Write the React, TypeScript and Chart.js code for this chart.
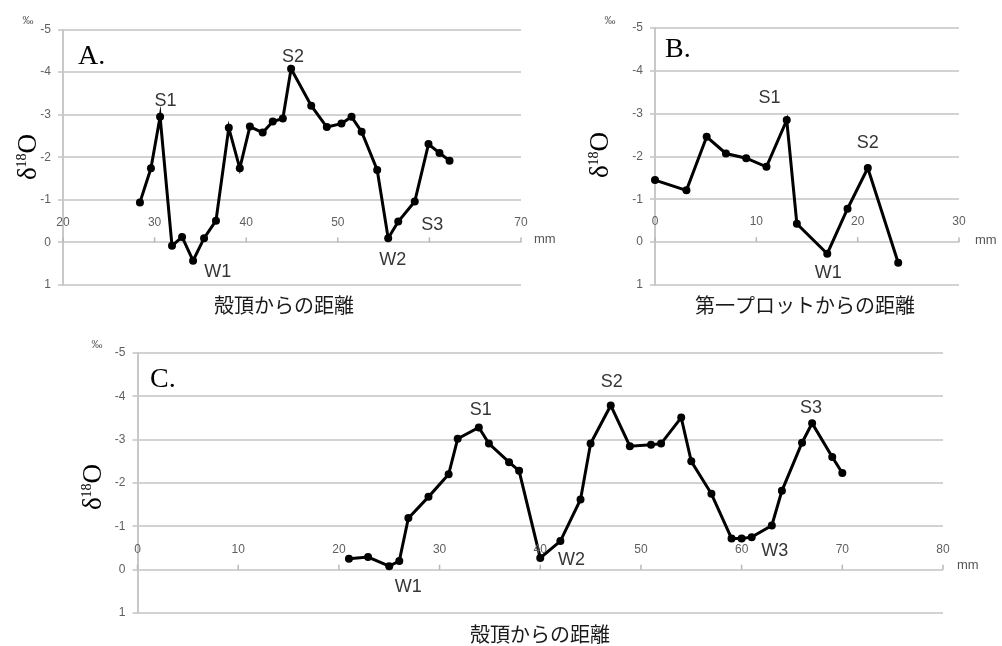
import React, { useEffect, useRef } from 'react';
import { Chart, registerables } from 'chart.js';

Chart.register(...registerables);

// ---------- Panel A ----------
const aDistance = [28.4, 29.6, 30.6, 31.9, 33.0, 34.2, 35.4, 36.7, 38.1, 39.3, 40.4, 41.8, 42.9, 44.0, 44.9, 47.1, 48.8, 50.4, 51.5, 52.6, 54.3, 55.5, 56.6, 58.4, 59.9, 61.1, 62.2];
const aDelta = [-0.94, -1.74, -2.95, 0.08, -0.13, 0.43, -0.10, -0.51, -2.69, -1.74, -2.72, -2.58, -2.84, -2.91, -4.08, -3.21, -2.71, -2.79, -2.95, -2.60, -1.70, -0.10, -0.49, -0.96, -2.31, -2.10, -1.92];
const aTickValues = [20, 30, 40, 50, 60, 70];
const aTickLabels = ['20', '30', '40', '50', '', '70'];
const aMarkText = ['S1', 'S2', 'W1', 'W2', 'S3'];
const aMarkX = [31.2, 45.1, 36.9, 56.0, 60.3];
const aMarkY = [-3.31, -4.36, 0.69, 0.41, -0.41];

// ---------- Panel B ----------
const bDistance = [0, 3.1, 5.1, 7.0, 9.0, 11.0, 13.0, 14.0, 17.0, 19.0, 21.0, 24.0];
const bDelta = [-1.45, -1.21, -2.46, -2.07, -1.96, -1.76, -2.85, -0.43, 0.27, -0.78, -1.73, 0.48];
const bTickValues = [0, 10, 20, 30];
const bTickLabels = ['0', '10', '20', '30'];
const bMarkText = ['S1', 'S2', 'W1'];
const bMarkX = [11.3, 21.0, 17.1];
const bMarkY = [-3.37, -2.32, 0.72];

// ---------- Panel C ----------
const cDistance = [21.0, 22.9, 25.0, 26.0, 26.9, 28.9, 30.9, 31.8, 33.9, 34.9, 36.9, 37.9, 40.0, 42.0, 44.0, 45.0, 47.0, 48.9, 51.0, 52.0, 54.0, 55.0, 57.0, 59.0, 60.0, 61.0, 63.0, 64.0, 66.0, 67.0, 69.0, 70.0];
const cDelta = [-0.25, -0.29, -0.08, -0.20, -1.19, -1.68, -2.20, -3.02, -3.28, -2.91, -2.48, -2.28, -0.27, -0.66, -1.62, -2.91, -3.79, -2.85, -2.88, -2.91, -3.51, -2.50, -1.75, -0.72, -0.72, -0.75, -1.02, -1.82, -2.93, -3.38, -2.60, -2.23];
const cTickValues = [0, 10, 20, 30, 40, 50, 60, 70, 80];
const cTickLabels = ['0', '10', '20', '30', '40', '50', '60', '70', '80'];
const cMarkText = ['S1', 'S2', 'S3', 'W1', 'W2', 'W3'];
const cMarkX = [34.1, 47.1, 66.9, 26.9, 43.1, 63.3];
const cMarkY = [-3.69, -4.34, -3.73, 0.39, -0.22, -0.42];

// ---------- shared text ----------
const yMin = -5;
const yMax = 1;
const panelLetters = ['A.', 'B.', 'C.'];
const xTitleShell = '殻頂からの距離';
const xTitleFirst = '第一プロットからの距離';
const unitPermil = '‰';
const unitMm = 'mm';

type Layout = {
  left: number; top: number; width: number; height: number;
  pad: { left: number; right: number; top: number; bottom: number };
  xMin: number; xMax: number;
  letter: [number, number];
  permil: [number, number];
  yTitle: [number, number];
  xTitle: [number, number];
  mm: [number, number];
};

type PanelData = {
  xs: number[]; ys: number[];
  tickValues: number[]; tickLabels: string[];
  markText: string[]; markX: number[]; markY: number[];
  letter: string; xTitle: string;
};

const layoutA: Layout = {
  left: 0, top: 0, width: 560, height: 330,
  pad: { left: 23, right: 39, top: 29.5, bottom: 45 },
  xMin: 20, xMax: 70,
  letter: [78, 57], permil: [28, 21], yTitle: [27, 157], xTitle: [284, 305], mm: [534, 239],
};
const layoutB: Layout = {
  left: 560, top: 0, width: 442, height: 330,
  pad: { left: 55, right: 43, top: 28, bottom: 45 },
  xMin: 0, xMax: 30,
  letter: [105, 50], permil: [50, 21], yTitle: [39, 155], xTitle: [245, 305], mm: [415, 240],
};
const layoutC: Layout = {
  left: 0, top: 330, width: 1002, height: 316,
  pad: { left: 97.5, right: 59, top: 23, bottom: 33 },
  xMin: 0, xMax: 80,
  letter: [150, 50], permil: [97, 15], yTitle: [92, 157], xTitle: [540, 304], mm: [957, 235],
};

const SANS = '"Liberation Sans", Arial, sans-serif';
const SERIF = '"Liberation Serif", "Times New Roman", serif';
const CJK = '"Noto Sans CJK JP", sans-serif';

function drawDeltaTitle(ctx: CanvasRenderingContext2D, cx: number, cy: number) {
  ctx.save();
  ctx.translate(cx, cy);
  ctx.rotate(-Math.PI / 2);
  ctx.fillStyle = '#000';
  ctx.textAlign = 'left';
  ctx.textBaseline = 'alphabetic';
  const big = `27px ${SERIF}`;
  const small = `14px ${SERIF}`;
  ctx.font = big;
  const wd = ctx.measureText('δ').width;
  const wo = ctx.measureText('O').width;
  ctx.font = small;
  const ws = ctx.measureText('18').width;
  let x = -(wd + ws + wo) / 2;
  const base = 9;
  ctx.font = big;
  ctx.fillText('δ', x, base);
  x += wd;
  ctx.font = small;
  ctx.fillText('18', x, base - 10);
  x += ws;
  ctx.font = big;
  ctx.fillText('O', x, base);
  ctx.restore();
}

function makeOverlay(layout: Layout, d: PanelData) {
  return {
    id: 'overlay',
    afterDraw(chart: any) {
      const ctx: CanvasRenderingContext2D = chart.ctx;
      const xs = chart.scales.x;
      const ys = chart.scales.y;
      const zeroY = ys.getPixelForValue(0);
      ctx.save();
      // x tick marks and labels above the zero line
      ctx.strokeStyle = '#b8b8b8';
      ctx.lineWidth = 1.5;
      ctx.fillStyle = '#5f5f5f';
      ctx.font = `12px ${SANS}`;
      ctx.textAlign = 'center';
      ctx.textBaseline = 'middle';
      d.tickValues.forEach((v, i) => {
        const px = xs.getPixelForValue(v);
        ctx.beginPath();
        ctx.moveTo(px, zeroY);
        ctx.lineTo(px, zeroY - 5);
        ctx.stroke();
        if (d.tickLabels[i]) ctx.fillText(d.tickLabels[i], px, zeroY - 20);
      });
      // annotations
      ctx.fillStyle = '#363636';
      ctx.font = `18px ${SANS}`;
      d.markText.forEach((t, i) => {
        ctx.fillText(t, xs.getPixelForValue(d.markX[i]), ys.getPixelForValue(d.markY[i]));
      });
      // panel letter
      ctx.fillStyle = '#000';
      ctx.font = `28px ${SERIF}`;
      ctx.textAlign = 'left';
      ctx.fillText(d.letter, layout.letter[0], layout.letter[1]);
      // per-mil
      ctx.fillStyle = '#555';
      ctx.font = `11px ${SANS}`;
      ctx.textAlign = 'center';
      ctx.fillText(unitPermil, layout.permil[0], layout.permil[1]);
      // mm
      ctx.fillStyle = '#555';
      ctx.font = `13px ${SANS}`;
      ctx.textAlign = 'left';
      ctx.fillText(unitMm, layout.mm[0], layout.mm[1]);
      // x title
      ctx.fillStyle = '#1a1a1a';
      ctx.font = `20px ${CJK}`;
      ctx.textAlign = 'center';
      ctx.fillText(d.xTitle, layout.xTitle[0], layout.xTitle[1]);
      ctx.restore();
      drawDeltaTitle(ctx, layout.yTitle[0], layout.yTitle[1]);
    },
  };
}

function Panel({ layout, d }: { layout: Layout; d: PanelData }) {
  const ref = useRef<HTMLCanvasElement>(null);
  useEffect(() => {
    const chart = new Chart(ref.current as HTMLCanvasElement, {
      type: 'line',
      data: {
        datasets: [
          {
            data: d.xs.map((x, i) => ({ x, y: d.ys[i] })),
            borderColor: '#000',
            backgroundColor: '#000',
            borderWidth: 3,
            pointRadius: 4,
            pointHoverRadius: 4,
            pointBorderWidth: 0,
            pointBackgroundColor: '#000',
            tension: 0,
            clip: false as any,
          },
        ],
      },
      options: {
        responsive: false,
        animation: false,
        devicePixelRatio: 1,
        events: [],
        layout: { padding: layout.pad },
        plugins: { legend: { display: false }, tooltip: { enabled: false } },
        scales: {
          x: { type: 'linear', min: layout.xMin, max: layout.xMax, display: false },
          y: {
            type: 'linear',
            min: yMin,
            max: yMax,
            reverse: true,
            ticks: { stepSize: 1, color: '#5f5f5f', font: { family: SANS, size: 12 }, padding: 7 },
            grid: { color: '#d2d2d2', lineWidth: 2, tickLength: 5 },
            border: { color: '#c8c8c8', width: 2 },
            afterFit: (s: any) => { s.width = 40; },
          },
        },
      } as any,
      plugins: [makeOverlay(layout, d)],
    });
    return () => chart.destroy();
  }, []);
  return (
    <canvas
      ref={ref}
      width={layout.width}
      height={layout.height}
      style={{ position: 'absolute', left: layout.left, top: layout.top, width: layout.width, height: layout.height }}
    />
  );
}

const dataA: PanelData = { xs: aDistance, ys: aDelta, tickValues: aTickValues, tickLabels: aTickLabels, markText: aMarkText, markX: aMarkX, markY: aMarkY, letter: panelLetters[0], xTitle: xTitleShell };
const dataB: PanelData = { xs: bDistance, ys: bDelta, tickValues: bTickValues, tickLabels: bTickLabels, markText: bMarkText, markX: bMarkX, markY: bMarkY, letter: panelLetters[1], xTitle: xTitleFirst };
const dataC: PanelData = { xs: cDistance, ys: cDelta, tickValues: cTickValues, tickLabels: cTickLabels, markText: cMarkText, markX: cMarkX, markY: cMarkY, letter: panelLetters[2], xTitle: xTitleShell };

export default function App() {
  return (
    <div style={{ position: 'fixed', left: 0, top: 0, width: 1002, height: 646, background: '#fff', overflow: 'hidden' }}>
      <Panel layout={layoutA} d={dataA} />
      <Panel layout={layoutB} d={dataB} />
      <Panel layout={layoutC} d={dataC} />
    </div>
  );
}
